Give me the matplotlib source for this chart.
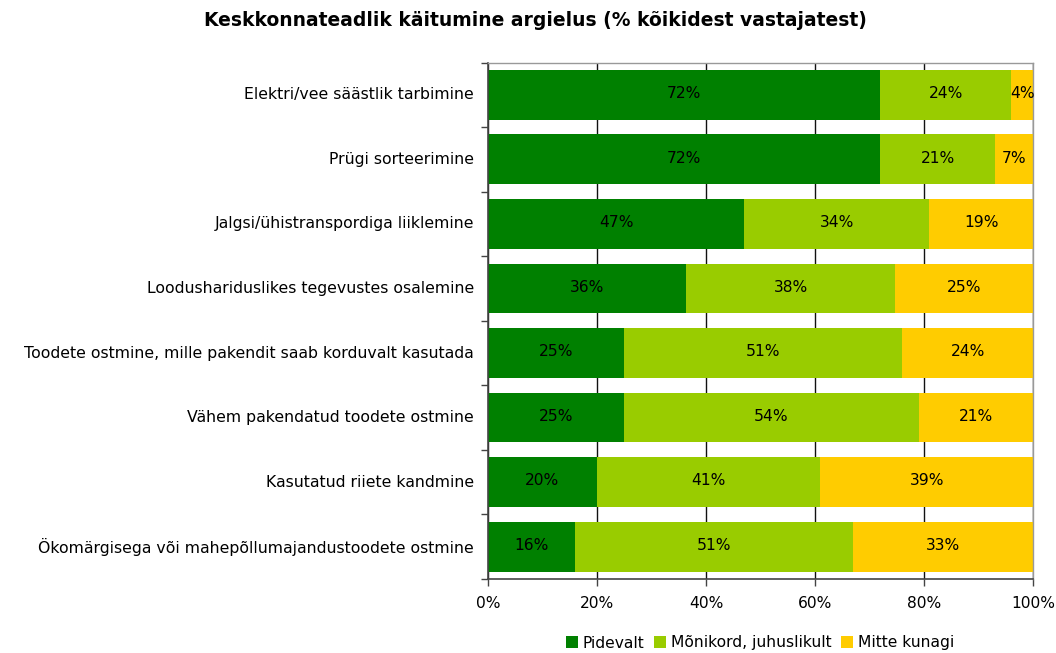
import matplotlib
matplotlib.use("Agg")
import matplotlib.pyplot as plt
import numpy as np

plt.rcParams['font.family'] = ['DejaVu Sans']

title = "Keskkonnateadlik käitumine argielus (% kõikidest vastajatest)"
categories = [
    "Elektri/vee säästlik tarbimine",
    "Prügi sorteerimine",
    "Jalgsi/ühistranspordiga liiklemine",
    "Loodushariduslikes tegevustes osalemine",
    "Toodete ostmine, mille pakendit saab korduvalt kasutada",
    "Vähem pakendatud toodete ostmine",
    "Kasutatud riiete kandmine",
    "Ökomärgisega või mahepõllumajandustoodete ostmine",
]
series_names = ["Pidevalt", "Mõnikord, juhuslikult", "Mitte kunagi"]
pidevalt = [72, 72, 47, 36, 25, 25, 20, 16]
monikord = [24, 21, 34, 38, 51, 54, 41, 51]
mitte = [4, 7, 19, 25, 24, 21, 39, 33]
colors = ["#008000", "#99CC00", "#FFCC00"]
xticks = [0, 20, 40, 60, 80, 100]

fs = 11.2

fig = plt.figure(figsize=(10.56, 6.53), dpi=100)
ax = fig.add_axes([488 / 1056, 1 - 579 / 653, (1033 - 488) / 1056, (579 - 62.5) / 653])

data = np.array([pidevalt, monikord, mitte], dtype=float)
shares = data / data.sum(axis=0) * 100
y = np.arange(len(categories))
left = np.zeros(len(categories))
for vals, share, name, col in zip(data, shares, series_names, colors):
    ax.barh(y, share, left=left, height=0.77, color=col, label=name, zorder=2)
    for yi, l, s, v in zip(y, left, share, vals):
        ax.text(l + s / 2, yi - 0.02, f"{int(v)}%", ha="center", va="center",
                fontsize=fs, color="black", zorder=3)
    left += share

ax.set_xlim(0, 100)
ax.set_ylim(len(categories) - 0.5, -0.5)
ax.set_xticks(xticks)
ax.set_xticklabels([f"{t}%" for t in xticks], fontsize=fs)
ax.set_yticks(y)
ax.set_yticklabels(categories, fontsize=11.3, va="center")
ax.tick_params(axis="y", length=0, pad=10)
ax.set_yticks(np.arange(len(categories) + 1) - 0.5, minor=True)
ax.tick_params(axis="y", which="minor", length=5, width=1, color="#444444", direction="out")
ax.tick_params(axis="x", length=5, width=1, color="#444444", direction="out", pad=7)
ax.xaxis.grid(True, color="#111111", linewidth=1, zorder=0)
ax.set_axisbelow(True)
for side in ["left", "bottom"]:
    ax.spines[side].set_color("#444444")
    ax.spines[side].set_linewidth(1.2)
for side in ["top", "right"]:
    ax.spines[side].set_color("#999999")
    ax.spines[side].set_linewidth(1)

fig.text(535 / 1056, 1 - 20 / 653, title, ha="center", va="center",
         fontsize=13.5, fontweight="bold")

handles, labels = ax.get_legend_handles_labels()
fig.legend(handles, labels, loc="center", bbox_to_anchor=(760 / 1056, 1 - 643 / 653),
           ncol=3, frameon=False, fontsize=fs, handlelength=0.8, handleheight=0.8,
           handletextpad=0.3, columnspacing=0.6)

fig.savefig("out.png", dpi=100)
